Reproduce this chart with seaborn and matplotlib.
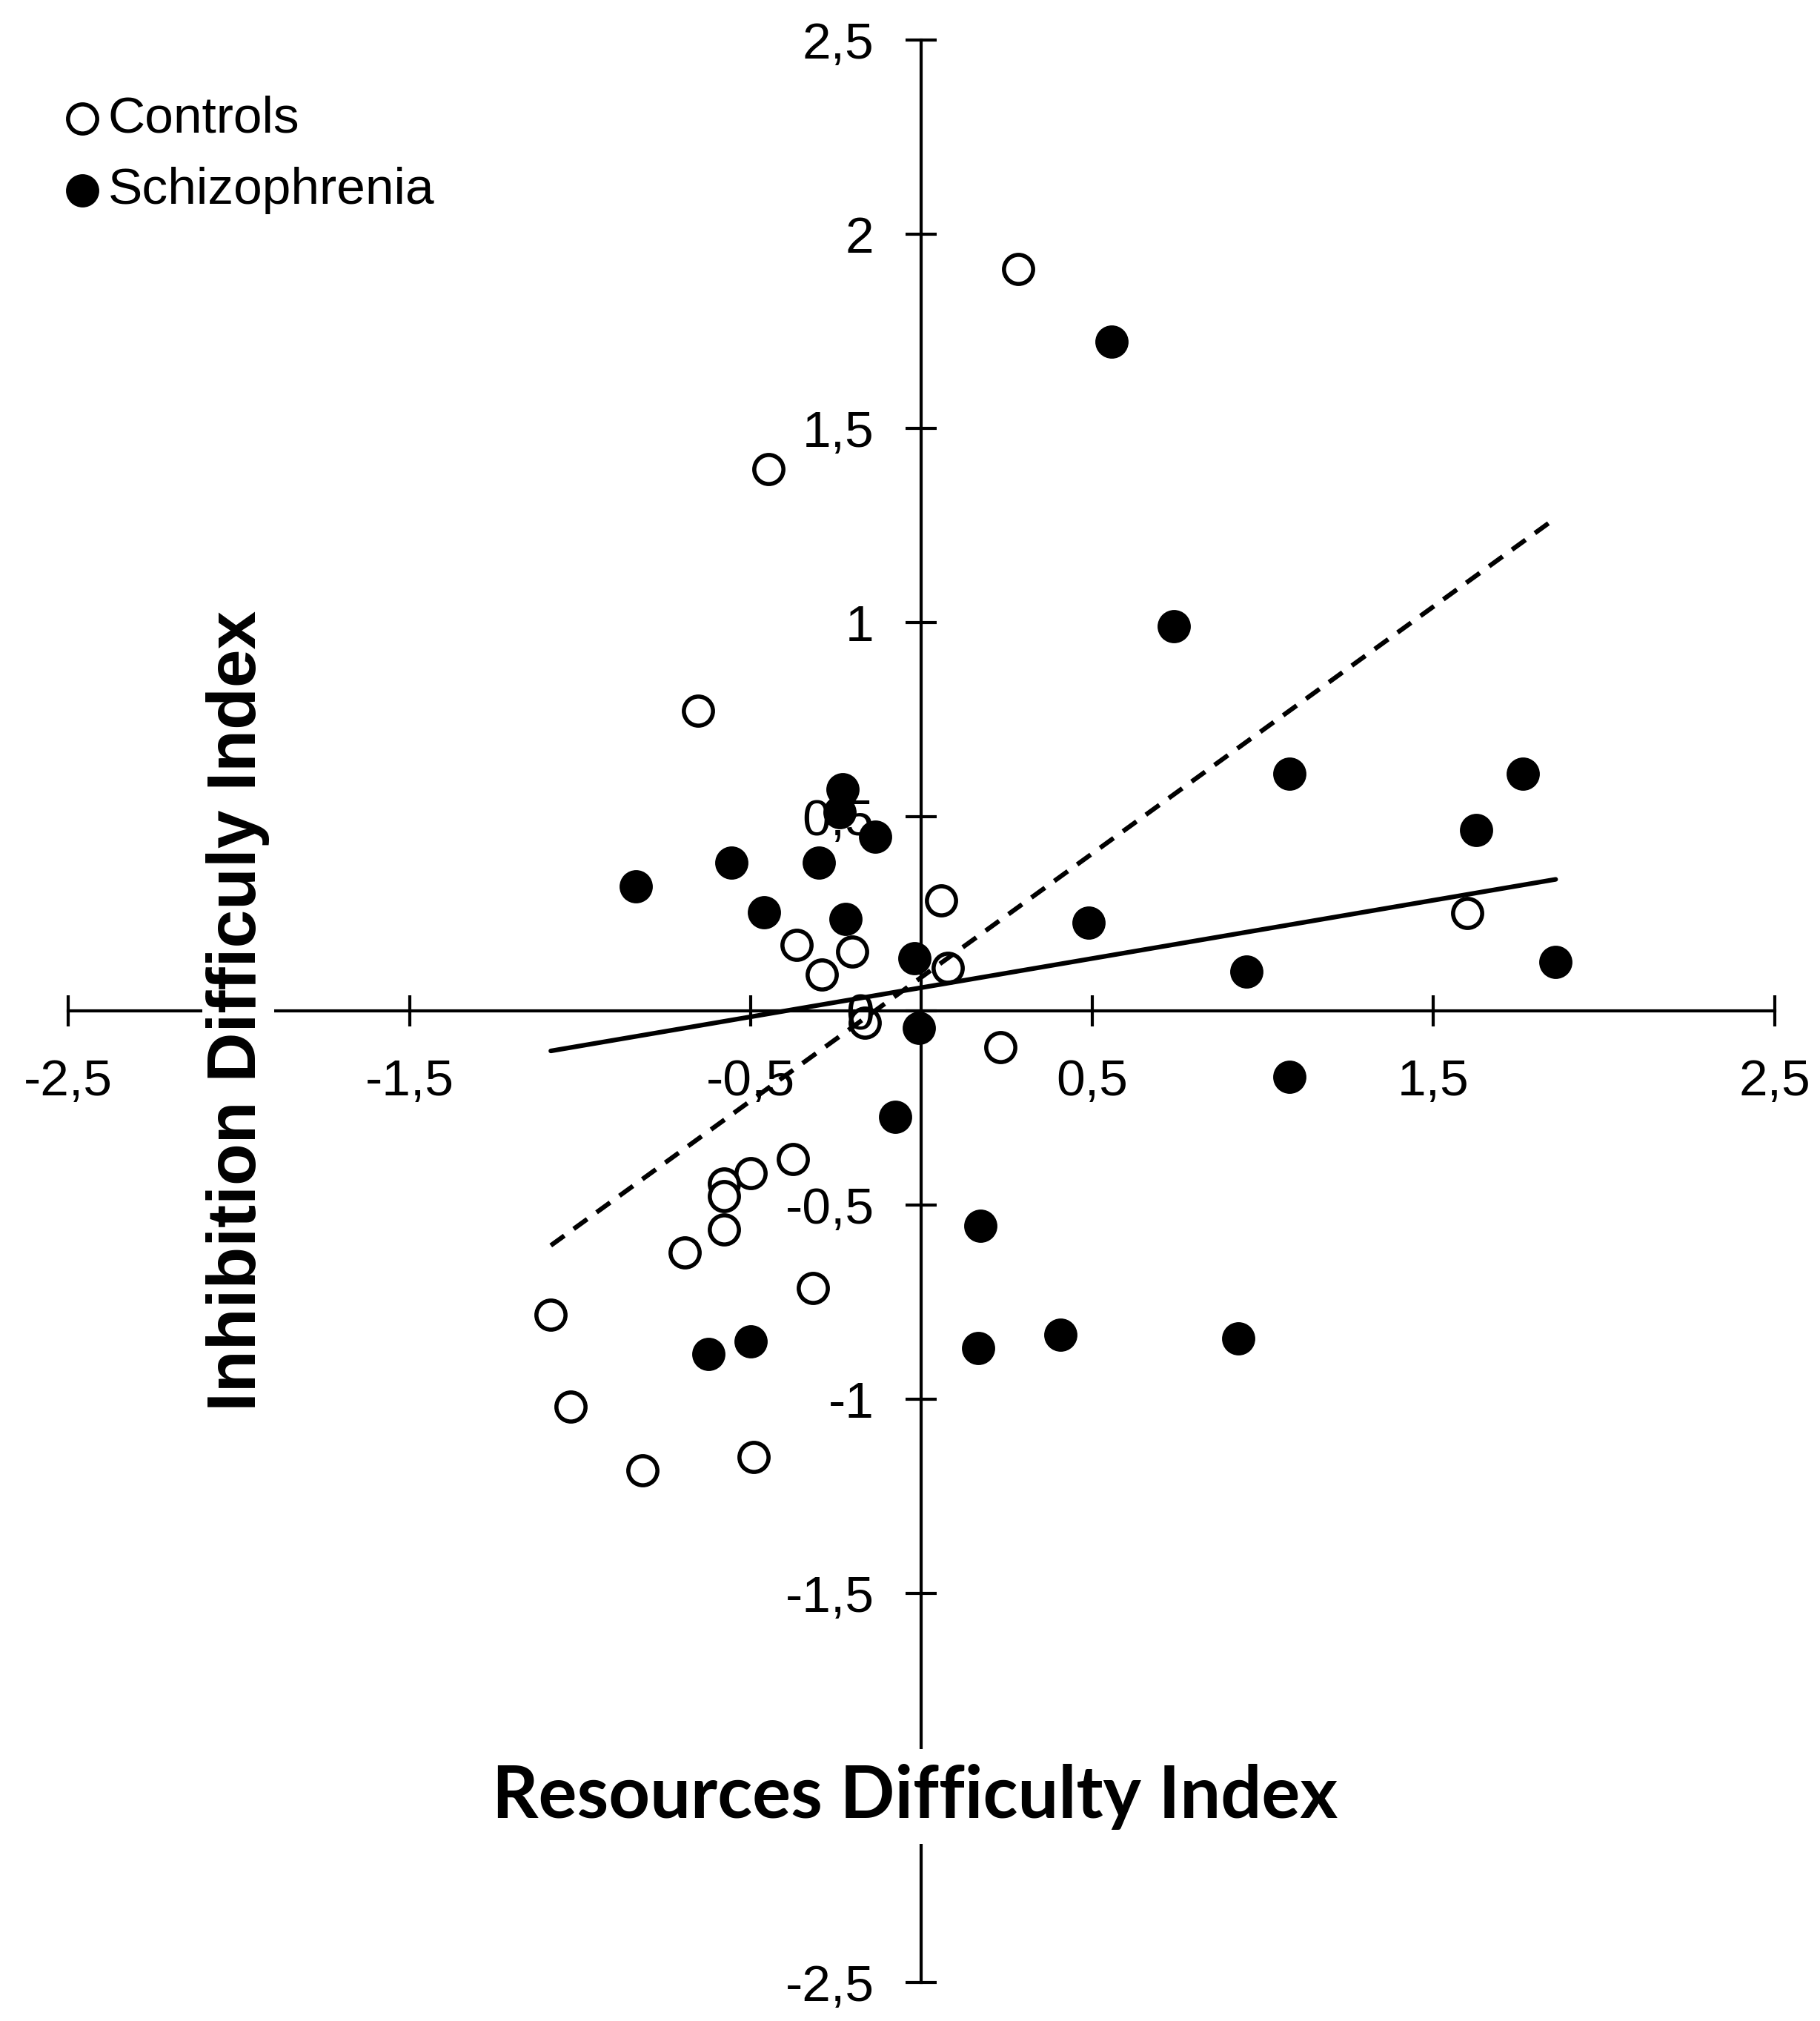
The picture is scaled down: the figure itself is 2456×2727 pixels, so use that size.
import numpy as np
import pandas as pd
import matplotlib.pyplot as plt
import seaborn as sns

# values
controls_x = [0.283, -0.448, -0.655, 0.057, -0.366, -0.204, -0.291, 0.076, -0.167, 0.231,
              -0.376, -0.500, -0.578, -0.578, -0.578, -0.694, -0.319, -1.086, -1.029, -0.817,
              -0.491, 1.599]
controls_y = [1.909, 1.394, 0.772, 0.285, 0.170, 0.153, 0.093, 0.110, -0.031, -0.094,
              -0.382, -0.418, -0.445, -0.477, -0.562, -0.621, -0.714, -0.782, -1.019, -1.182,
              -1.148, 0.252]

schizo_x = [0.557, 0.740, 1.079, 1.762, 1.626, 0.490, 0.953, 1.858, 1.079, -0.232,
            -0.239, -0.136, -0.557, -0.300, -0.837, -0.462, -0.223, -0.020, -0.008, -0.077,
            0.173, -0.500, -0.625, 0.166, 0.406, 0.928]
schizo_y = [1.722, 0.991, 0.611, 0.611, 0.466, 0.228, 0.101, 0.126, -0.170, 0.571,
            0.512, 0.448, 0.381, 0.381, 0.321, 0.253, 0.236, 0.136, -0.043, -0.273,
            -0.553, -0.850, -0.884, -0.867, -0.834, -0.843]

# trend lines (slope, intercept)
trend_styles = ['dashed', 'solid']
trend_slope = [0.636, 0.150]
trend_intercept = [0.087, 0.060]

x_ticks = [-2.5, -1.5, -0.5, 0.5, 1.5, 2.5]
x_tick_labels = ['-2,5', '-1,5', '-0,5', '0,5', '1,5', '2,5']
y_ticks = [2.5, 2, 1.5, 1, 0.5, 0, -0.5, -1, -1.5, -2, -2.5]
y_tick_labels = ['2,5', '2', '1,5', '1', '0,5', '0', '-0,5', '-1', '-1,5', '-2', '-2,5']

sns.set_theme(style='white')
plt.rcParams['font.family'] = ['Liberation Sans', 'DejaVu Sans']
plt.rcParams['text.color'] = 'black'
plt.rcParams['axes.labelcolor'] = 'black'

fig = plt.figure(figsize=(24.56, 27.27), dpi=100)
ax = fig.add_axes([0.03746, 0.01922, 0.93770, 0.96112])

sns.scatterplot(x=controls_x, y=controls_y, ax=ax, s=800, color='white',
                edgecolor='black', linewidth=4, zorder=2, label='Controls')
sns.scatterplot(x=schizo_x, y=schizo_y, ax=ax, s=800, color='black',
                edgecolor='black', linewidth=4, zorder=2, label='Schizophrenia')

# trend lines over the range of all points
all_x = np.array(controls_x + schizo_x)
xs = np.array([all_x.min(), all_x.max()])
for style, m, b in zip(trend_styles, trend_slope, trend_intercept):
    if style == 'dashed':
        ax.plot(xs, m * xs + b, color='black', lw=4.5, dashes=(3.6, 2.5), zorder=3)
    else:
        ax.plot(xs, m * xs + b, color='black', lw=4.5, zorder=3)

ax.set_xlim(-2.5, 2.5)
ax.set_ylim(-2.5, 2.5)
ax.spines['left'].set_position('zero')
ax.spines['bottom'].set_position('zero')
ax.spines['top'].set_visible(False)
ax.spines['right'].set_visible(False)
for s in ['left', 'bottom']:
    ax.spines[s].set_linewidth(3)
    ax.spines[s].set_color('black')
ax.set_axisbelow(False)

ax.set_xticks(x_ticks)
ax.set_xticklabels(x_tick_labels)
ax.set_yticks(y_ticks)
ax.set_yticklabels(y_tick_labels)
ax.tick_params(axis='both', bottom=True, left=True, direction='inout', length=30, width=3,
               color='black', labelsize=50, labelcolor='black', pad=31)
ax.set_xlabel('')
ax.set_ylabel('')

ax.text(-0.02, -2.077, 'Resources Difficulty Index', ha='center', va='baseline',
        family=['Lato', 'DejaVu Sans'], fontweight='bold', fontsize=70, color='black',
        zorder=5, bbox=dict(facecolor='white', edgecolor='none', pad=14))
ax.text(-1.95, 0.0, 'Inhibition Difficuly Index', rotation=90, rotation_mode='anchor',
        ha='center', va='baseline', family=['Liberation Sans', 'DejaVu Sans'],
        fontweight='bold', fontsize=67, color='black', zorder=5,
        bbox=dict(facecolor='white', edgecolor='none', pad=4))

leg = ax.legend(loc='upper left', bbox_to_anchor=(0.0353, 0.953), bbox_transform=fig.transFigure,
                frameon=False, fontsize=50, handlelength=0.7, handletextpad=0.15,
                borderpad=0, borderaxespad=0, labelspacing=0.47)
for t in leg.get_texts():
    t.set_color('black')

fig.savefig('out.png', dpi=100)
